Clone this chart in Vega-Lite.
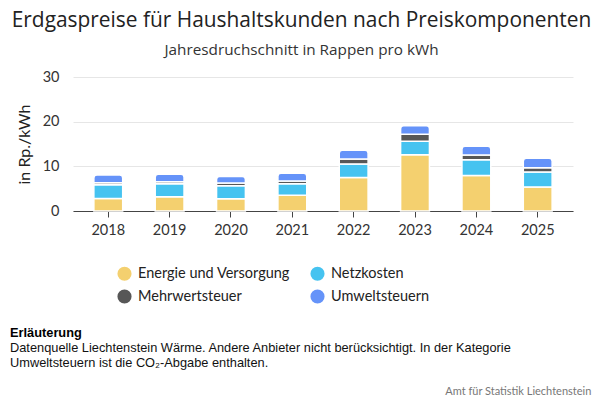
{
  "$schema": "https://vega.github.io/schema/vega-lite/v6.json",
  "padding": {"left": 10, "right": 5, "top": 10, "bottom": 5},
  "spacing": 89,
  "config": {"view": {"stroke": null}, "font": "Lato"},
  "title": {
    "text": "Amt für Statistik Liechtenstein",
    "orient": "bottom",
    "anchor": "end",
    "dx": 0,
    "font": "Lato",
    "fontSize": 11,
    "fontWeight": "normal",
    "color": "#777777",
    "offset": 1
  },
  "vconcat": [
    {
      "title": {
        "text": "Erdgaspreise für Haushaltskunden nach Preiskomponenten",
        "subtitle": "Jahresdruchschnitt in Rappen pro kWh",
        "anchor": "middle",
        "dx": -21.5,
        "font": "Open Sans",
        "fontSize": 20.9,
        "fontWeight": "normal",
        "color": "#222222",
        "subtitleFont": "Open Sans",
        "subtitleFontSize": 15.3,
        "subtitleColor": "#333333",
        "subtitlePadding": 12,
        "offset": 10.5
      },
      "width": 500,
      "height": 134,
      "data": {
        "values": [
          {"Jahr": "2018", "Komponente": "Energie und Versorgung", "Wert": 2.8},
          {"Jahr": "2018", "Komponente": "Netzkosten", "Wert": 3.1},
          {"Jahr": "2018", "Komponente": "Mehrwertsteuer", "Wert": 0.45},
          {"Jahr": "2018", "Komponente": "Umweltsteuern", "Wert": 1.7},
          {"Jahr": "2019", "Komponente": "Energie und Versorgung", "Wert": 3.2},
          {"Jahr": "2019", "Komponente": "Netzkosten", "Wert": 2.9},
          {"Jahr": "2019", "Komponente": "Mehrwertsteuer", "Wert": 0.45},
          {"Jahr": "2019", "Komponente": "Umweltsteuern", "Wert": 1.7},
          {"Jahr": "2020", "Komponente": "Energie und Versorgung", "Wert": 2.75},
          {"Jahr": "2020", "Komponente": "Netzkosten", "Wert": 2.9},
          {"Jahr": "2020", "Komponente": "Mehrwertsteuer", "Wert": 0.6},
          {"Jahr": "2020", "Komponente": "Umweltsteuern", "Wert": 1.5},
          {"Jahr": "2021", "Komponente": "Energie und Versorgung", "Wert": 3.5},
          {"Jahr": "2021", "Komponente": "Netzkosten", "Wert": 2.6},
          {"Jahr": "2021", "Komponente": "Mehrwertsteuer", "Wert": 0.6},
          {"Jahr": "2021", "Komponente": "Umweltsteuern", "Wert": 1.75},
          {"Jahr": "2022", "Komponente": "Energie und Versorgung", "Wert": 7.5},
          {"Jahr": "2022", "Komponente": "Netzkosten", "Wert": 3.05},
          {"Jahr": "2022", "Komponente": "Mehrwertsteuer", "Wert": 1.1},
          {"Jahr": "2022", "Komponente": "Umweltsteuern", "Wert": 1.95},
          {"Jahr": "2023", "Komponente": "Energie und Versorgung", "Wert": 12.6},
          {"Jahr": "2023", "Komponente": "Netzkosten", "Wert": 3.0},
          {"Jahr": "2023", "Komponente": "Mehrwertsteuer", "Wert": 1.6},
          {"Jahr": "2023", "Komponente": "Umweltsteuern", "Wert": 1.9},
          {"Jahr": "2024", "Komponente": "Energie und Versorgung", "Wert": 7.95},
          {"Jahr": "2024", "Komponente": "Netzkosten", "Wert": 3.5},
          {"Jahr": "2024", "Komponente": "Mehrwertsteuer", "Wert": 1.1},
          {"Jahr": "2024", "Komponente": "Umweltsteuern", "Wert": 1.95},
          {"Jahr": "2025", "Komponente": "Energie und Versorgung", "Wert": 5.4},
          {"Jahr": "2025", "Komponente": "Netzkosten", "Wert": 3.35},
          {"Jahr": "2025", "Komponente": "Mehrwertsteuer", "Wert": 0.95},
          {"Jahr": "2025", "Komponente": "Umweltsteuern", "Wert": 2.1}
        ]
      },
      "transform": [
        {"calculate": "indexof(['Energie und Versorgung','Netzkosten','Mehrwertsteuer','Umweltsteuern'], datum.Komponente)", "as": "ord"},
        {"stack": "Wert", "groupby": ["Jahr"], "sort": [{"field": "ord", "order": "ascending"}], "as": ["y0", "y1"]}
      ],
      "encoding": {
        "x": {
          "field": "Jahr",
          "type": "ordinal",
          "scale": {"paddingInner": 0.53, "paddingOuter": 0.34},
          "axis": {
            "title": null,
            "labelAngle": 0,
            "labelFont": "Lato",
            "labelFontSize": 14.5,
            "labelColor": "#333333",
            "labelPadding": 6,
            "domainColor": "#444444",
            "domainWidth": 1.2,
            "tickColor": "#444444",
            "tickSize": 6,
            "grid": false
          }
        },
        "y": {
          "field": "y0",
          "type": "quantitative",
          "scale": {"domain": [0, 30], "nice": false},
          "axis": {
            "title": "in Rp./kWh",
            "titleFont": "Lato",
            "titleFontSize": 16,
            "titleFontWeight": "normal",
            "titleColor": "#222222",
            "titlePadding": 10,
            "values": [0, 10, 20, 30],
            "domain": false,
            "ticks": false,
            "gridColor": "#e6e6e6",
            "labelFont": "Lato",
            "labelFontSize": 14.5,
            "labelColor": "#333333",
            "labelPadding": 14
          }
        },
        "y2": {"field": "y1"},
        "color": {
          "field": "Komponente",
          "type": "nominal",
          "scale": {
            "domain": ["Energie und Versorgung", "Netzkosten", "Mehrwertsteuer", "Umweltsteuern"],
            "range": ["#F4D06F", "#46C3F0", "#575757", "#6593F9"]
          },
          "legend": {
            "title": null,
            "orient": "none",
            "direction": "horizontal",
            "legendX": 44,
            "legendY": 189,
            "columns": 2,
            "columnPadding": 20,
            "rowPadding": 7,
            "symbolType": "circle",
            "symbolSize": 200,
            "symbolStrokeWidth": 0,
            "labelFont": "Lato",
            "labelFontSize": 14.5,
            "labelColor": "#222222",
            "labelOffset": 6
          }
        }
      },
      "layer": [
        {
          "transform": [{"filter": "datum.ord < 3"}],
          "mark": {"type": "bar", "stroke": "white", "strokeWidth": 1.5}
        },
        {
          "transform": [{"filter": "datum.ord == 3"}],
          "mark": {"type": "bar", "stroke": "white", "strokeWidth": 1.5, "cornerRadiusTopLeft": 3, "cornerRadiusTopRight": 3}
        }
      ]
    },
    {
      "width": 500,
      "height": 1,
      "data": {"values": [{}]},
      "mark": "text",
      "encoding": {"text": {"value": ""}},
      "title": {
        "text": "Erläuterung",
        "subtitle": [
          "Datenquelle Liechtenstein Wärme. Andere Anbieter nicht berücksichtigt. In der Kategorie",
          "Umweltsteuern ist die CO₂-Abgabe enthalten."
        ],
        "anchor": "start",
        "dx": -63,
        "font": "Liberation Sans",
        "fontSize": 12.8,
        "fontWeight": "bold",
        "color": "#000000",
        "subtitleFont": "Liberation Sans",
        "subtitleFontSize": 12.8,
        "subtitleColor": "#111111",
        "subtitlePadding": 2,
        "subtitleLineHeight": 15
      }
    }
  ]
}
